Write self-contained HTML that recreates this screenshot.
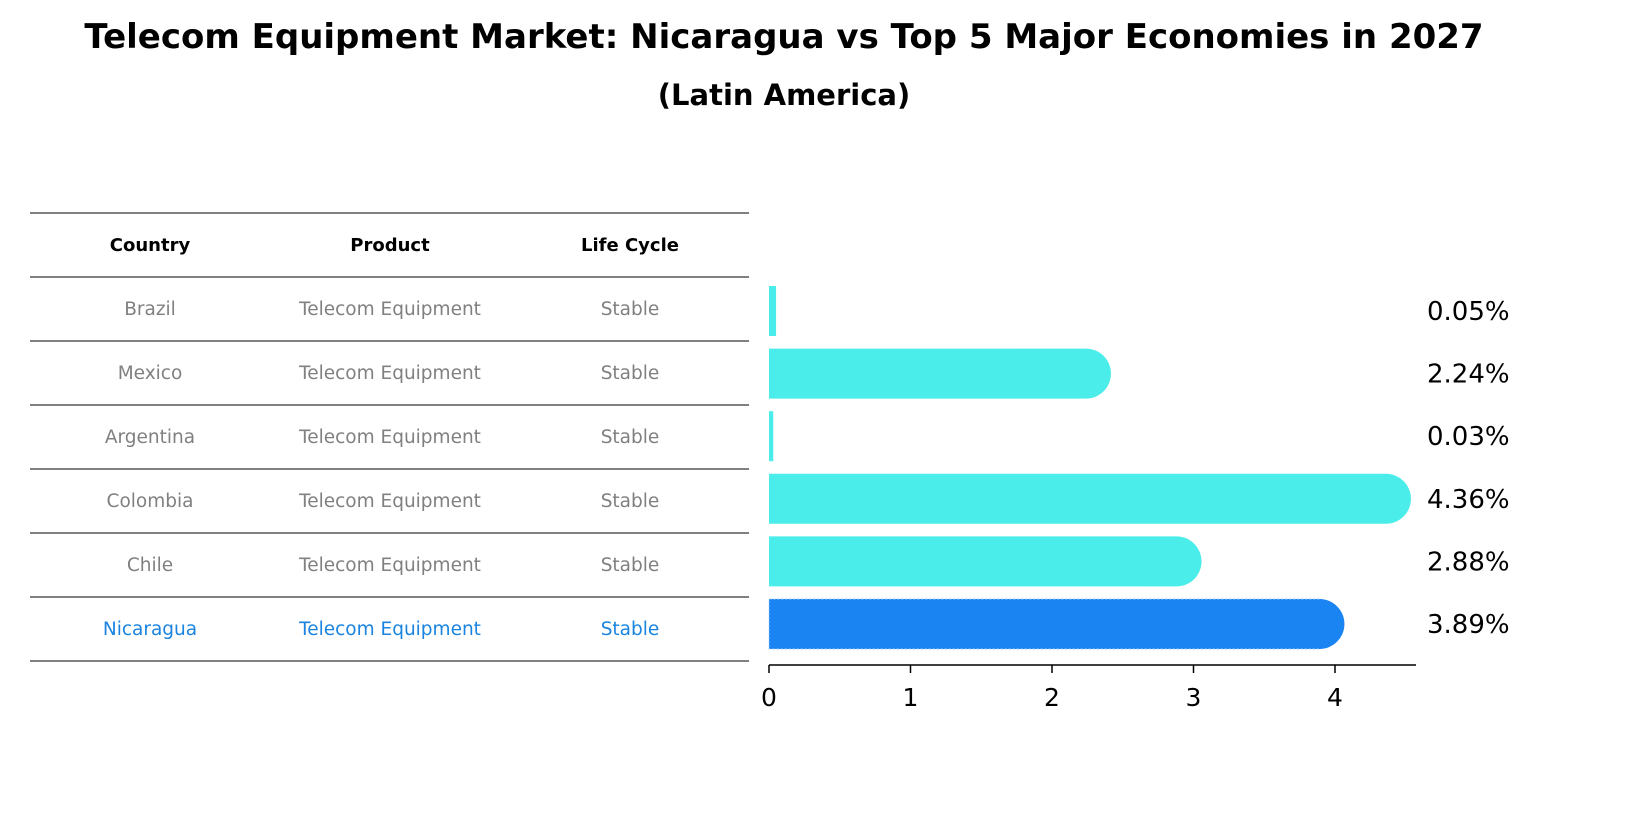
<!DOCTYPE html>
<html><head><meta charset="utf-8"><style>
body{margin:0;background:#fff;font-family:"DejaVu Sans","Liberation Sans",sans-serif;}
</style></head><body>
<svg width="1638" height="823" xmlns="http://www.w3.org/2000/svg" font-family="DejaVu Sans, Liberation Sans, sans-serif">
<text x="784" y="48" text-anchor="middle" font-size="34" font-weight="bold">Telecom Equipment Market: Nicaragua vs Top 5 Major Economies in 2027</text>
<text x="784" y="105" text-anchor="middle" font-size="29" font-weight="bold">(Latin America)</text>
<g id="table"></g>
<g id="bars"></g>
</svg>
<script>
const countries=["Brazil","Mexico","Argentina","Colombia","Chile","Nicaragua"];
const values=[0.05,2.24,0.03,4.36,2.88,3.89];
const valueLabels=["0.05%","2.24%","0.03%","4.36%","2.88%","3.89%"];
const ticks=[0,1,2,3,4];
const NS="http://www.w3.org/2000/svg";
function mk(t,a,p){const e=document.createElementNS(NS,t);for(const k in a)e.setAttribute(k,a[k]);p.appendChild(e);return e;}
const tbl=document.getElementById('table'),bars=document.getElementById('bars');
const cols=[150,390,630];
const rowTop=213,rowH=64;
function hline(y){const l=mk('line',{x1:30,x2:749,y1:y,y2:y,stroke:'#000','stroke-width':1},tbl);}
hline(rowTop);
["Country","Product","Life Cycle"].forEach((h,i)=>{const t=mk('text',{x:cols[i],y:rowTop+rowH/2+6,'text-anchor':'middle','font-size':18,'font-weight':'bold'},tbl);t.textContent=h;});
hline(rowTop+rowH);
countries.forEach((c,r)=>{const y=rowTop+rowH*(r+1)+rowH/2+6;const col=c==="Nicaragua"?'#1a84e0':'#808080';
[c,"Telecom Equipment","Stable"].forEach((v,i)=>{const t=mk('text',{x:cols[i],y:y,'text-anchor':'middle','font-size':18.5,fill:col},tbl);t.textContent=v;});
hline(rowTop+rowH*(r+2));});
const x0=769,ppu=141.5;const X=v=>x0+v*ppu;
const yc0=311,step=62.6,bh=50;
values.forEach((v,i)=>{const yc=yc0+i*step;const col=countries[i]==="Nicaragua"?'#1a84f2':'#4aede9';
const w=X(v)-x0;
let b;
if(w<8){b=mk('rect',{x:x0,y:yc-bh/2,width:Math.max(w,2),height:bh,fill:col},bars);}
else{b=mk('path',{d:`M${x0},${yc-bh/2}H${X(v)}A${bh/2},${bh/2} 0 0 1 ${X(v)},${yc+bh/2}H${x0}Z`,fill:col},bars);}

if(countries[i]==="Nicaragua"){const o=mk('path',{d:`M${X(v)},${yc-bh/2}H${x0}V${yc+bh/2}H${X(v)}`,fill:'none',stroke:'#9fd0ff','stroke-width':1,'stroke-dasharray':'2,2'},bars);}
const t=mk('text',{x:1427,y:yc+9,'font-size':26},bars);t.textContent=valueLabels[i];});
const ax=mk('line',{x1:x0,x2:1416,y1:665,y2:665,stroke:'#000','stroke-width':1.5},bars);
ticks.forEach(v=>{const l=mk('line',{x1:X(v),x2:X(v),y1:665,y2:673,stroke:'#000','stroke-width':1.5},bars);
const t=mk('text',{x:X(v),y:706,'text-anchor':'middle','font-size':25},bars);t.textContent=v;});
</script>
</body></html>
